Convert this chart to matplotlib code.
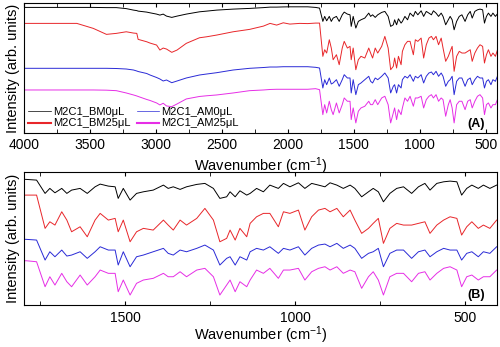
import numpy as np
import matplotlib
matplotlib.use("Agg")
import matplotlib.pyplot as plt
from matplotlib.ticker import MultipleLocator

plt.rcParams['font.family'] = ['Liberation Sans', 'DejaVu Sans']
plt.rcParams['mathtext.default'] = 'regular'

# high wavenumber region (4000 - 1850 cm-1), shared grid
wn_high = [4000, 3600, 3475, 3375, 3300, 3225, 3170, 3145, 3135, 3070, 3045, 2995, 2970,
           2945, 2920, 2880, 2840, 2770, 2670, 2615, 2540, 2415, 2290, 2185, 2135, 2085,
           2035, 1985, 1910, 1850]
bm0_high = [12.57, 12.57, 12.57, 12.55, 12.55, 12.45, 12.3, 12.25, 12.2, 12.1, 12.03, 11.9, 11.8,
            11.9, 11.7, 11.57, 11.7, 11.9, 12.13, 12.2, 12.3, 12.4, 12.47, 12.55, 12.6, 12.6,
            12.62, 12.63, 12.63, 12.63]
bm25_high = [10.97, 10.97, 10.47, 9.87, 9.97, 10.13, 10.0, 9.97, 9.37, 9.13, 9.0, 8.8, 8.3,
             8.5, 8.4, 8.07, 8.3, 8.97, 9.53, 9.63, 9.8, 10.13, 10.37, 10.7, 10.97, 10.8,
             11.03, 10.9, 10.97, 10.95]
am0_high = [6.47, 6.47, 6.47, 6.47, 6.45, 6.4, 6.3, 6.2, 6.15, 5.95, 5.8, 5.55, 5.4,
            5.2, 5.3, 5.03, 5.2, 5.5, 5.8, 5.9, 6.03, 6.3, 6.47, 6.55, 6.6, 6.6,
            6.63, 6.63, 6.63, 6.63]
am25_high = [4.3, 4.3, 4.3, 4.28, 4.23, 4.0, 3.8, 3.7, 3.65, 3.35, 3.25, 3.0, 2.8,
             2.97, 2.7, 2.63, 2.9, 3.4, 3.65, 3.72, 3.8, 4.0, 4.23, 4.3, 4.35, 4.37,
             4.37, 4.37, 4.37, 4.37]

# fingerprint region (1790 - 407 cm-1), shared grid
wn_fp = [1790, 1760, 1735, 1721, 1706, 1686, 1671, 1657, 1632, 1611, 1588, 1573, 1549, 1529,
         1520, 1505, 1485, 1466, 1446, 1417, 1387, 1373, 1358, 1338, 1319, 1289, 1265, 1240,
         1221, 1201, 1191, 1176, 1162, 1142, 1132, 1113, 1093, 1074, 1049, 1034, 1015, 990,
         971, 951, 931, 912, 897, 877, 858, 838, 824, 804, 784, 770, 755, 740, 721, 701,
         681, 657, 637, 618, 603, 583, 563, 544, 524, 510, 495, 480, 461, 446, 427, 407]
bm0_fp = [12.57, 12.5, 11.17, 11.67, 11.23, 11.67, 11.17, 11.5, 11.67, 11.17, 11.83, 12.1, 11.9, 11.83,
          10.67, 11.67, 10.5, 11.17, 11.33, 11.5, 12.0, 11.67, 11.83, 11.57, 11.83, 12.07, 12.17, 11.67,
          10.67, 10.83, 11.33, 10.83, 11.43, 11.0, 11.17, 11.67, 11.33, 12.0, 11.67, 12.17, 11.83, 12.23,
          11.67, 12.17, 12.0, 11.83, 12.23, 12.0, 11.67, 12.0, 11.67, 10.83, 11.33, 11.67, 11.33, 10.33, 11.17, 11.67,
          11.83, 11.17, 11.83, 12.17, 11.5, 12.17, 12.33, 12.4, 12.33, 11.0, 11.67, 12.0, 11.67, 12.0, 11.67, 12.0]
bm25_fp = [11.0, 11.0, 7.67, 8.33, 8.0, 9.33, 8.5, 7.33, 7.83, 6.83, 8.5, 9.17, 8.5, 8.67,
           7.33, 8.5, 6.33, 7.33, 7.67, 7.5, 8.5, 8.0, 7.5, 8.5, 8.0, 8.67, 9.67, 8.5,
           6.33, 6.67, 7.5, 6.5, 7.67, 6.83, 8.17, 8.83, 9.17, 9.17, 7.83, 9.33, 9.17, 9.5,
           7.5, 8.83, 9.5, 9.67, 9.33, 9.67, 8.83, 9.5, 8.5, 7.17, 7.67, 8.17, 8.67, 6.17, 7.67, 8.17,
           8.0, 8.0, 8.17, 8.33, 7.17, 8.0, 8.5, 8.83, 8.67, 7.0, 7.83, 8.33, 7.67, 8.0, 7.67, 8.5]
am0_fp = [6.57, 6.5, 4.5, 5.33, 4.83, 5.5, 4.9, 5.0, 5.33, 4.67, 5.33, 5.83, 5.5, 5.5,
          4.0, 5.33, 3.83, 4.83, 5.0, 5.33, 5.67, 5.17, 5.0, 5.5, 5.33, 5.67, 6.0, 5.5,
          4.0, 4.67, 4.83, 4.0, 4.83, 4.5, 5.33, 5.67, 5.5, 5.83, 5.17, 5.67, 5.5, 5.83,
          5.0, 5.67, 6.0, 6.1, 5.83, 6.17, 5.67, 6.0, 5.67, 4.67, 5.17, 5.33, 5.67, 3.83, 5.17, 5.5,
          5.5, 4.67, 5.33, 5.5, 4.83, 5.33, 5.67, 5.5, 5.5, 4.5, 5.17, 5.33, 4.83, 5.33, 5.17, 5.83]
am25_fp = [4.43, 4.33, 1.83, 2.83, 2.0, 3.17, 2.33, 1.83, 3.0, 2.0, 2.83, 3.5, 3.17, 3.17,
           1.33, 2.5, 1.0, 2.17, 2.5, 2.67, 3.17, 2.83, 2.83, 3.33, 2.83, 3.5, 3.67, 2.83,
           1.0, 2.0, 2.5, 1.33, 2.33, 1.83, 2.5, 3.5, 3.17, 3.67, 2.67, 3.5, 3.5, 3.67,
           2.5, 3.33, 3.67, 3.83, 3.5, 3.83, 3.17, 3.5, 3.33, 1.67, 2.83, 3.33, 2.5, 1.0, 2.83, 3.17,
           3.17, 2.33, 3.17, 3.33, 2.5, 3.17, 3.67, 3.83, 3.5, 1.83, 2.83, 3.0, 2.5, 2.83, 2.83, 3.5]

wn = np.array(wn_high + wn_fp)
series = [
    ("M2C1_BM0\u03bcL", bm0_high + bm0_fp, "black"),
    ("M2C1_BM25\u03bcL", bm25_high + bm25_fp, "#e8262a"),
    ("M2C1_AM0\u03bcL", am0_high + am0_fp, "#2a2ad6"),
    ("M2C1_AM25\u03bcL", am25_high + am25_fp, "#e62ee6"),
]

fig = plt.figure(figsize=(5, 3.47), dpi=100)
ax_a = fig.add_axes([0.048, 0.617, 0.946, 0.374])
ax_b = fig.add_axes([0.048, 0.121, 0.946, 0.383])

for ax in (ax_a, ax_b):
    for name, vals, col in series:
        ax.plot(wn, vals, color=col, lw=0.7, label=name)
    ax.set_yticks([])
    ax.set_ylabel("Intensity (arb. units)", fontsize=10.5, labelpad=3)
    ax.tick_params(axis='x', which='both', direction='in', top=True, labelsize=10, length=3, pad=4)
    ax.xaxis.set_major_locator(MultipleLocator(500))
    ax.xaxis.set_minor_locator(MultipleLocator(250))

ax_a.set_xlabel("Wavenumber (cm$^{-1}$)", fontsize=10.5, labelpad=2)
ax_b.set_xlabel("Wavenumber (cm$^{-1}$)", fontsize=10.5, labelpad=0)

ax_a.set_xlim(4000, 415)
ax_a.set_ylim(0, 13.0)
ax_b.set_xlim(1797, 406)
ax_b.set_ylim(0, 13.3)

leg = ax_a.legend(loc='lower left', ncol=2, fontsize=8, frameon=False,
                  handlelength=2.0, columnspacing=0.5, borderaxespad=0.15,
                  labelspacing=0.1, handletextpad=0.25, borderpad=0.25)
for line, w in zip(leg.get_lines(), [0.5, 1.5, 0.5, 1.5]):
    line.set_linewidth(w)

ax_a.text(0.975, 0.02, "(A)", transform=ax_a.transAxes, ha='right', va='bottom',
          fontsize=9, fontweight='bold')
ax_b.text(0.975, 0.03, "(B)", transform=ax_b.transAxes, ha='right', va='bottom',
          fontsize=9, fontweight='bold')

fig.savefig("out.png", dpi=100)
